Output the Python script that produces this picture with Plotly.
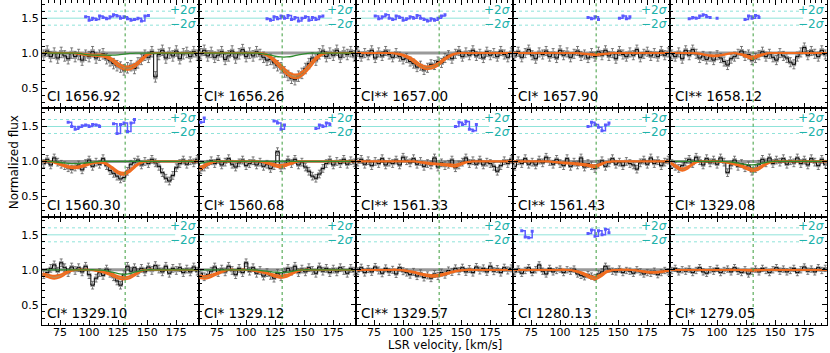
import plotly.graph_objects as go
from plotly.subplots import make_subplots

X_MIN, X_MAX = 59.5, 194.5
Y_MIN, Y_MAX = 0.21, 1.76
V_SYS = 131
SIG_MID, SIG_HI, SIG_LO = 1.5, 1.6, 1.4
SIG_X_END = 174

# velocity grid of the spectra (km/s)
vel = [61, 64, 67, 70, 73, 76, 79, 82, 85, 88, 91, 94, 97, 100, 103,
       106, 109, 112, 115, 118, 121, 124, 127, 130, 133, 136, 139, 142, 145, 148,
       151, 154, 157, 160, 163, 166, 169, 172, 175, 178, 181, 184, 187, 190, 193]
# velocity grid of the fitted profiles
model_vel = [60, 65, 70, 75, 80, 85, 90, 95, 100, 105, 110, 115, 120, 125,
             130, 135, 140, 145, 150, 155, 160, 165, 170, 175, 180, 185, 190, 195]

labels = ["CI 1656.92", "CI* 1656.26", "CI** 1657.00", "CI* 1657.90", "CI** 1658.12",
          "CI 1560.30", "CI* 1560.68", "CI** 1561.33", "CI** 1561.43", "CI* 1329.08",
          "CI* 1329.10", "CI* 1329.12", "CI** 1329.57", "CI 1280.13", "CI* 1279.05"]
flux_err = [0.075, 0.075, 0.065, 0.065, 0.065, 0.055, 0.055, 0.055, 0.055, 0.055,
            0.055, 0.055, 0.05, 0.045, 0.045]

# CI 1656.92
flux_p01 = [0.97, 1.03, 0.95, 1.00, 0.93, 1.01, 0.96, 0.92, 1.00, 0.95, 0.98, 0.90, 0.97, 0.95, 1.02,
            0.93, 0.97, 0.99, 0.92, 0.89, 0.85, 0.82, 0.80, 0.76, 0.79, 0.82, 0.78, 0.86, 0.91, 0.97,
            0.94, 1.02, 0.66, 0.98, 1.04, 0.93, 1.00, 0.96, 1.03, 0.92, 0.99, 1.01, 0.95, 1.02, 0.97]
hi_p01 = [1.0] * 6 + [1.0, 0.99, 0.985, 0.98, 0.98, 0.965, 0.92, 0.86, 0.815, 0.815, 0.85, 0.92, 0.985] + [1.0] * 9
lo_p01 = [1.0] * 6 + [0.99, 0.975, 0.965, 0.96, 0.955, 0.935, 0.88, 0.81, 0.765, 0.765, 0.81, 0.885, 0.965] + [1.0] * 9
green_p01 = [1.0] * 7 + [0.985, 0.975, 0.97, 0.97, 0.97, 0.97, 0.975, 0.985, 0.995] + [1.0] * 12
res_v_p01 = [97, 100, 103, 106, 109, 112, 115, 118, 121, 124, 127, 130, 133, 136, 139, 142, 145, 148, 151]
res_p01 = [1.52, 1.47, 1.50, 1.48, 1.53, 1.51, 1.49, 1.52, 1.55, 1.53, 1.50, 1.52, 1.49, 1.47, 1.48, 1.50, 1.46, 1.53, 1.54]

# CI* 1656.26
flux_p02 = [0.99, 1.04, 0.96, 1.01, 0.94, 0.97, 1.02, 0.91, 0.96, 1.03, 0.93, 0.99, 1.05, 0.95, 1.00,
            0.96, 1.02, 0.98, 0.94, 0.90, 0.91, 0.86, 0.82, 0.79, 0.73, 0.68, 0.64, 0.62, 0.67, 0.71,
            0.78, 0.85, 0.93, 0.90, 0.99, 1.03, 0.95, 1.00, 0.97, 1.04, 0.94, 1.01, 0.98, 1.02, 0.96]
hi_p02 = [1.0] * 11 + [0.995, 0.965, 0.905, 0.83, 0.75, 0.70, 0.70, 0.76, 0.85, 0.94, 0.99] + [1.0] * 6
lo_p02 = [1.0] * 11 + [0.985, 0.94, 0.86, 0.775, 0.695, 0.645, 0.645, 0.705, 0.795, 0.90, 0.975] + [1.0] * 6
green_p02 = [1.0] * 11 + [0.99, 0.975, 0.955, 0.945, 0.945, 0.955, 0.975, 0.99] + [1.0] * 9
res_v_p02 = [118, 121, 124, 127, 130, 133, 136, 139, 142, 145, 148, 151, 154, 157, 160, 163, 166]
res_p02 = [1.49, 1.47, 1.52, 1.49, 1.53, 1.50, 1.54, 1.48, 1.51, 1.46, 1.50, 1.52, 1.47, 1.51, 1.48, 1.52, 1.53]

# CI** 1657.00
flux_p03 = [1.02, 0.95, 1.00, 0.97, 1.04, 0.93, 1.01, 0.96, 1.03, 0.98, 0.94, 1.00, 0.95, 0.91, 0.93,
            0.88, 0.85, 0.80, 0.82, 0.76, 0.79, 0.84, 0.83, 0.88, 0.86, 0.93, 0.97, 0.92, 0.99, 1.03,
            0.95, 1.01, 0.97, 1.04, 0.96, 0.99, 0.93, 1.02, 0.97, 1.00, 0.95, 1.03, 0.98, 0.94, 1.01]
hi_p03 = [1.0] * 7 + [0.995, 0.98, 0.95, 0.90, 0.84, 0.81, 0.82, 0.86, 0.92, 0.97, 0.995] + [1.0] * 10
lo_p03 = [1.0] * 7 + [0.985, 0.96, 0.92, 0.86, 0.80, 0.77, 0.78, 0.82, 0.89, 0.95, 0.99] + [1.0] * 10
res_v_p03 = [76, 79, 82, 85, 88, 91, 94, 97, 100, 103, 106, 109, 112, 115, 118, 121, 124, 127, 130, 133, 136]
res_p03 = [1.53, 1.49, 1.52, 1.55, 1.50, 1.48, 1.53, 1.51, 1.47, 1.49, 1.52, 1.50, 1.54, 1.50, 1.48, 1.46, 1.49, 1.47, 1.50, 1.53, 1.55]

# CI* 1657.90
flux_p04 = [0.96, 1.02, 0.94, 1.00, 1.05, 0.97, 0.92, 1.01, 0.98, 1.03, 0.95, 1.00, 0.93, 1.04, 0.97,
            1.01, 0.94, 0.99, 1.03, 0.96, 0.98, 0.93, 1.00, 0.95, 1.02, 0.97, 1.04, 0.96, 1.00, 0.92,
            1.03, 0.98, 0.95, 1.01, 0.97, 1.05, 0.94, 0.99, 1.02, 0.96, 1.00, 0.95, 1.03, 0.97, 1.01]
hi_p04 = [1.0] * 12 + [0.995, 0.99, 0.985, 0.99, 0.995] + [1.0] * 11
lo_p04 = [1.0] * 12 + [0.99, 0.98, 0.97, 0.98, 0.99] + [1.0] * 11
res_v_p04 = [124, 127, 130, 133, None, 151, 154, 157, 160]
res_p04 = [1.51, 1.49, 1.52, 1.48, None, 1.50, 1.53, 1.49, 1.52]

# CI** 1658.12
flux_p05 = [0.98, 0.95, 1.01, 0.92, 1.04, 0.97, 1.05, 0.99, 0.93, 0.96, 0.91, 0.95, 0.90, 0.97, 0.93,
            0.88, 0.83, 0.92, 0.95, 0.99, 1.03, 0.96, 0.98, 0.90, 0.93, 0.97, 1.02, 0.95, 0.99, 0.94,
            0.90, 1.00, 0.96, 0.93, 0.87, 0.84, 0.95, 1.01, 1.08, 0.97, 1.03, 0.99, 0.95, 1.04, 0.98]
hi_p05 = [1.0] * 5 + [0.995, 0.98, 0.97, 0.97, 0.98, 0.995] + [1.0] + [0.99, 0.97, 0.95, 0.97, 0.99] + [1.0] * 11
lo_p05 = [1.0] * 5 + [0.99, 0.97, 0.955, 0.955, 0.97, 0.99] + [1.0] + [0.98, 0.945, 0.915, 0.945, 0.98] + [1.0] * 11
res_v_p05 = [76, 79, 82, 85, 88, 91, 94, None, 100, None, 124, 127, 130, 133, 136]
res_p05 = [1.49, 1.51, 1.50, 1.53, 1.55, 1.52, 1.51, None, 1.50, None, 1.48, 1.53, 1.50, 1.54, 1.51]

# CI 1560.30
flux_p06 = [0.97, 1.03, 0.95, 1.05, 0.99, 0.96, 0.94, 0.91, 0.89, 0.92, 0.95, 0.88, 0.97, 1.02, 0.93,
            0.99, 0.96, 1.04, 0.94, 0.87, 0.83, 0.79, 0.75, 0.77, 0.86, 0.96, 0.99, 1.02, 0.95, 1.00,
            0.97, 1.03, 0.98, 0.93, 0.84, 0.76, 0.72, 0.80, 0.91, 0.97, 1.02, 0.96, 1.01, 0.98, 1.03]
hi_p06 = [1.0] * 2 + [0.99, 0.97, 0.945, 0.93, 0.93, 0.95, 0.975, 0.99, 0.995, 0.975, 0.92, 0.86, 0.84, 0.88, 0.95, 0.99] + [1.0] * 10
lo_p06 = [1.0] * 2 + [0.98, 0.95, 0.92, 0.905, 0.905, 0.925, 0.955, 0.975, 0.98, 0.955, 0.89, 0.83, 0.81, 0.85, 0.925, 0.98] + [1.0] * 10
green_p06 = [1.0] * 2 + [0.995, 0.985, 0.975, 0.97, 0.97, 0.975, 0.985, 0.995] + [1.0] * 18
res_v_p06 = [82, 85, 88, 91, 94, 97, 100, 103, 106, 109, None, 121, 124, 127, 130, 133, 136, 139]
res_p06 = [1.56, 1.50, 1.46, 1.49, 1.51, 1.52, 1.50, 1.53, 1.52, 1.50, None, 1.54, 1.40, 1.53, 1.55, 1.43, 1.55, 1.60]

# CI* 1560.68
flux_p07 = [0.88, 0.92, 0.96, 1.01, 0.97, 1.03, 0.95, 0.99, 1.04, 0.96, 0.92, 0.98, 1.02, 0.94, 0.97,
            1.01, 0.95, 0.99, 0.93, 0.96, 0.90, 0.94, 1.14, 0.91, 0.95, 1.02, 0.97, 1.03, 0.95, 0.99,
            0.92, 0.86, 0.79, 0.76, 0.82, 0.90, 0.97, 1.02, 0.95, 1.00, 0.97, 1.03, 0.96, 1.01, 0.98]
hi_p07 = [0.92, 0.96, 0.99] + [1.0] * 8 + [0.995, 0.98, 0.96, 0.95, 0.965, 0.985] + [1.0] * 11
lo_p07 = [0.88, 0.93, 0.975] + [1.0] * 8 + [0.985, 0.96, 0.93, 0.915, 0.94, 0.97] + [1.0] * 11
green_p07 = [0.97, 0.99] + [1.0] * 26
res_v_p07 = [61, 64, None, 124, 127, 130, 133, None, 160, 163, 166, 169, 172]
res_p07 = [1.56, 1.62, None, 1.58, 1.55, 1.46, 1.52, None, 1.47, 1.52, 1.50, 1.55, 1.53]

# CI** 1561.33
flux_p08 = [0.99, 1.03, 0.96, 1.01, 0.94, 1.00, 0.97, 1.04, 0.95, 0.99, 0.97, 1.02, 0.95, 1.06, 1.01,
            0.98, 1.04, 0.96, 1.00, 0.93, 0.97, 0.95, 1.05, 0.92, 0.98, 0.94, 0.96, 1.02, 0.91, 0.95,
            0.99, 1.05, 0.97, 1.01, 0.96, 1.02, 0.95, 0.99, 0.97, 0.93, 0.86, 0.94, 1.01, 0.97, 1.03]
hi_p08 = [1.0] * 11 + [0.995, 0.985, 0.975, 0.97, 0.965, 0.96, 0.955, 0.975, 0.995] + [1.0] * 8
lo_p08 = [1.0] * 11 + [0.985, 0.97, 0.96, 0.955, 0.945, 0.935, 0.925, 0.955, 0.985] + [1.0] * 8
res_v_p08 = [145, 148, 151, 154, 157, 160, 163]
res_p08 = [1.50, 1.56, 1.53, 1.57, 1.46, 1.44, 1.53]

# CI** 1561.43
flux_p09 = [0.93, 1.01, 0.97, 1.04, 0.96, 0.99, 0.95, 1.02, 0.98, 1.06, 1.00, 0.96, 1.03, 0.97, 0.94,
            1.04, 0.93, 0.99, 0.95, 1.05, 0.92, 0.97, 0.94, 0.90, 0.96, 1.01, 0.93, 0.98, 1.04, 0.96,
            0.99, 0.94, 1.00, 0.97, 0.95, 0.89, 0.98, 1.02, 0.96, 1.05, 0.97, 1.01, 0.94, 0.99, 1.02]
hi_p09 = [1.0] * 7 + [0.995, 0.99, 0.985, 0.98, 0.975, 0.965, 0.955, 0.945, 0.97, 0.995] + [1.0] * 11
lo_p09 = [1.0] * 7 + [0.99, 0.98, 0.97, 0.965, 0.955, 0.945, 0.93, 0.915, 0.95, 0.985] + [1.0] * 11
res_v_p09 = [124, 127, 130, 133, 136, 139, 142]
res_p09 = [1.50, 1.56, 1.53, 1.49, 1.44, 1.52, 1.55]

# CI* 1329.08
flux_p10 = [0.97, 0.93, 0.90, 0.94, 0.99, 1.03, 0.97, 1.06, 1.01, 0.95, 1.04, 0.98, 1.02, 0.96, 1.05,
            0.99, 0.84, 0.95, 1.02, 0.93, 0.97, 0.91, 0.94, 0.86, 0.90, 0.96, 1.03, 0.98, 1.05, 0.97,
            1.02, 0.99, 1.04, 0.96, 1.01, 0.98, 1.05, 0.97, 1.02, 0.95, 1.04, 0.99, 0.94, 1.03, 0.96]
hi_p10 = [0.985, 0.94, 0.90, 0.93, 0.98, 1.0] + [1.0] * 3 + [0.995, 0.985, 0.97, 0.95, 0.92, 0.895, 0.91, 0.955, 0.99] + [1.0] * 10
lo_p10 = [0.97, 0.91, 0.865, 0.90, 0.965, 1.0] + [1.0] * 3 + [0.99, 0.975, 0.955, 0.93, 0.89, 0.86, 0.875, 0.93, 0.98] + [1.0] * 10
green_p10 = [1.0] * 10 + [0.995, 0.985, 0.97, 0.955, 0.95, 0.96, 0.98, 0.995] + [1.0] * 10

# CI* 1329.10
flux_p11 = [0.93, 0.96, 1.02, 1.07, 0.98, 1.10, 1.03, 0.96, 1.04, 0.99, 1.03, 0.97, 1.05, 0.93, 0.78,
            0.88, 0.96, 0.92, 1.01, 0.95, 0.90, 0.84, 0.78, 0.93, 1.05, 0.98, 1.03, 0.96, 1.02, 0.97,
            1.04, 0.99, 1.06, 1.01, 0.97, 1.05, 0.95, 1.02, 0.99, 1.03, 0.96, 1.01, 0.97, 1.04, 0.98]
hi_p11 = [0.95, 0.93, 0.915, 0.93, 0.97, 0.995] + [1.0] * 3 + [0.995, 0.985, 0.965, 0.94, 0.91, 0.895, 0.91, 0.95, 0.99] + [1.0] * 10
lo_p11 = [0.92, 0.89, 0.87, 0.89, 0.94, 0.985] + [1.0] * 3 + [0.985, 0.97, 0.945, 0.91, 0.875, 0.86, 0.875, 0.925, 0.98] + [1.0] * 10
green_p11 = [1.0] * 10 + [0.995, 0.985, 0.965, 0.945, 0.935, 0.945, 0.97, 0.99] + [1.0] * 10

# CI* 1329.12
flux_p12 = [0.95, 0.90, 0.93, 0.98, 1.04, 0.96, 1.01, 0.97, 1.05, 0.99, 0.93, 1.02, 0.96, 1.10, 0.98,
            1.03, 0.95, 0.99, 0.91, 0.96, 0.92, 0.88, 0.95, 0.90, 0.97, 1.02, 0.98, 1.05, 0.96, 1.01,
            0.97, 1.03, 0.99, 0.95, 1.04, 0.98, 1.02, 0.96, 1.01, 0.97, 1.03, 0.99, 0.95, 1.02, 0.98]
hi_p12 = [0.92, 0.91, 0.93, 0.96, 0.985, 1.0] + [1.0] * 3 + [0.995, 0.985, 0.97, 0.95, 0.93, 0.915, 0.93, 0.96, 0.99] + [1.0] * 10
lo_p12 = [0.88, 0.87, 0.895, 0.935, 0.97, 1.0] + [1.0] * 3 + [0.99, 0.975, 0.955, 0.93, 0.90, 0.885, 0.90, 0.94, 0.98] + [1.0] * 10
green_p12 = [1.0] * 10 + [0.995, 0.985, 0.975, 0.965, 0.96, 0.965, 0.98, 0.995] + [1.0] * 10

# CI** 1329.57
flux_p13 = [0.98, 1.03, 0.96, 1.01, 0.97, 1.04, 0.99, 0.95, 1.02, 0.97, 1.00, 0.94, 1.03, 0.98, 0.96,
            0.93, 0.97, 0.91, 0.95, 0.89, 0.92, 0.88, 0.94, 0.91, 0.96, 0.93, 0.99, 0.97, 1.02, 0.98,
            1.03, 0.97, 1.01, 0.96, 1.04, 0.99, 1.02, 0.97, 1.05, 0.98, 1.01, 0.96, 1.03, 0.99, 1.02]
hi_p13 = [1.0] * 8 + [0.995, 0.985, 0.97, 0.95, 0.935, 0.925, 0.93, 0.945, 0.965, 0.985, 0.995] + [1.0] * 9
lo_p13 = [1.0] * 8 + [0.99, 0.975, 0.955, 0.93, 0.91, 0.90, 0.905, 0.925, 0.95, 0.975, 0.99] + [1.0] * 9

# CI 1280.13
flux_p14 = [0.97, 1.01, 0.95, 0.99, 1.03, 0.96, 1.00, 1.07, 0.98, 0.94, 1.02, 0.97, 0.99, 1.01, 0.96,
            1.00, 0.98, 1.01, 0.94, 0.92, 0.90, 0.93, 0.91, 0.89, 0.94, 0.97, 1.05, 1.01, 0.98, 0.97,
            1.01, 0.96, 0.99, 0.98, 0.95, 1.00, 0.97, 0.94, 0.96, 0.95, 0.98, 0.93, 0.96, 0.99, 0.97]
hi_p14 = [1.0] * 10 + [0.995, 0.98, 0.955, 0.92, 0.90, 0.935, 0.98, 0.995] + [1.0] * 3 + [0.995, 0.985, 0.975, 0.97, 0.975, 0.985, 0.99]
lo_p14 = [1.0] * 10 + [0.99, 0.965, 0.93, 0.885, 0.86, 0.90, 0.96, 0.99] + [1.0] * 3 + [0.99, 0.975, 0.96, 0.955, 0.96, 0.975, 0.985]
res_v_p14 = [67, 70, 73, 76, None, 124, 127, 130, 133, 136, 139, 142]
res_p14 = [1.56, 1.47, 1.46, 1.55, None, 1.52, 1.57, 1.48, 1.56, 1.50, 1.58, 1.53]

# CI* 1279.05
flux_p15 = [0.99, 1.02, 0.97, 1.00, 0.98, 1.01, 0.96, 0.99, 1.03, 0.97, 0.95, 1.00, 0.98, 1.02, 0.96,
            0.99, 1.01, 0.97, 1.03, 0.98, 0.96, 1.00, 0.94, 0.98, 1.01, 0.97, 1.02, 0.99, 0.96, 1.00,
            1.03, 0.98, 1.01, 0.97, 0.99, 1.02, 0.96, 1.00, 1.04, 0.98, 1.01, 0.97, 1.03, 0.99, 1.02]
hi_p15 = [1.0] * 28
lo_p15 = [1.0] * 12 + [0.995, 0.99, 0.985, 0.99, 0.995] + [1.0] * 11

panels = [
    (flux_p01, lo_p01, hi_p01, green_p01, res_v_p01, res_p01),
    (flux_p02, lo_p02, hi_p02, green_p02, res_v_p02, res_p02),
    (flux_p03, lo_p03, hi_p03, None, res_v_p03, res_p03),
    (flux_p04, lo_p04, hi_p04, None, res_v_p04, res_p04),
    (flux_p05, lo_p05, hi_p05, None, res_v_p05, res_p05),
    (flux_p06, lo_p06, hi_p06, green_p06, res_v_p06, res_p06),
    (flux_p07, lo_p07, hi_p07, green_p07, res_v_p07, res_p07),
    (flux_p08, lo_p08, hi_p08, None, res_v_p08, res_p08),
    (flux_p09, lo_p09, hi_p09, None, res_v_p09, res_p09),
    (flux_p10, lo_p10, hi_p10, green_p10, None, None),
    (flux_p11, lo_p11, hi_p11, green_p11, None, None),
    (flux_p12, lo_p12, hi_p12, green_p12, None, None),
    (flux_p13, lo_p13, hi_p13, None, None, None),
    (flux_p14, lo_p14, hi_p14, None, res_v_p14, res_p14),
    (flux_p15, lo_p15, hi_p15, None, None, None),
]

ORANGE = '#f26b1d'
BAND = 'rgba(184,132,72,0.9)'
GREEN = '#2e8b2e'
BLUE = '#5a5aff'
CYAN = '#8fe3da'
TEAL = '#20b2aa'
FONT = 'DejaVu Sans'

fig = make_subplots(rows=3, cols=5, horizontal_spacing=0, vertical_spacing=0)

for i, (flux, lo, hi, green, rv, rs) in enumerate(panels):
    r, c = i // 5 + 1, i % 5 + 1
    n = '' if i == 0 else str(i + 1)
    err = flux_err[i]
    rc = dict(row=r, col=c)

    # sigma reference lines for the residuals
    for lvl, dash in [(SIG_HI, 'dot'), (SIG_MID, 'solid'), (SIG_LO, 'dot')]:
        fig.add_trace(go.Scatter(x=[X_MIN, SIG_X_END], y=[lvl, lvl], mode='lines',
                                 line=dict(color=CYAN, width=1, dash=dash), hoverinfo='skip'), **rc)

    # continuum
    fig.add_trace(go.Scatter(x=[X_MIN, X_MAX], y=[1, 1], mode='lines',
                             line=dict(color='#9a9a9a', width=3), hoverinfo='skip'), **rc)

    # data: error bars, gray boxes, step
    fig.add_trace(go.Scatter(x=vel, y=flux, mode='markers', marker=dict(size=1, color='rgba(0,0,0,0)'),
                             error_y=dict(type='constant', value=err, color='#5a5a5a', thickness=0.8, width=1.5)), **rc)
    fig.add_trace(go.Scatter(x=vel, y=flux, mode='markers', marker=dict(size=1, color='rgba(0,0,0,0)'),
                             error_y=dict(type='constant', value=err * 0.45, color='#969696', thickness=4.5, width=0)), **rc)
    fig.add_trace(go.Scatter(x=vel, y=flux, mode='lines',
                             line=dict(color='black', width=1, shape='hvh')), **rc)

    # fit profile with uncertainty band
    fig.add_trace(go.Scatter(x=model_vel, y=lo, mode='lines',
                             line=dict(color=ORANGE, width=1.8, shape='spline')), **rc)
    fig.add_trace(go.Scatter(x=model_vel, y=hi, mode='lines', fill='tonexty', fillcolor=BAND,
                             line=dict(color=ORANGE, width=1.8, shape='spline')), **rc)
    if green is not None:
        fig.add_trace(go.Scatter(x=model_vel, y=green, mode='lines',
                                 line=dict(color=GREEN, width=1.3, shape='spline')), **rc)

    # residuals
    if rv is not None:
        fig.add_trace(go.Scatter(x=rv, y=rs, mode='lines+markers',
                                 line=dict(color=BLUE, width=1.5, shape='hv'),
                                 marker=dict(color=BLUE, size=3, symbol='square')), **rc)

    fig.add_vline(x=V_SYS, line=dict(color='#3c9c3c', width=1, dash='dot'), **rc)

    fig.add_annotation(text=labels[i], xref=f'x{n} domain', yref=f'y{n} domain', x=0.02, y=0.02,
                       xanchor='left', yanchor='bottom', showarrow=False,
                       font=dict(family=FONT, size=13.5, color='black'))
    for lvl, txt in [(SIG_HI + 0.02, '+2<i>σ</i>'), (SIG_LO + 0.02, '\u22122<i>σ</i>')]:
        fig.add_annotation(text=txt, xref=f'x{n} domain', yref=f'y{n}', x=1, y=lvl, xshift=-1,
                           xanchor='right', yanchor='middle', showarrow=False,
                           font=dict(family=FONT, size=12, color=TEAL))

fig.update_xaxes(range=[X_MIN, X_MAX], dtick=25, tick0=0, showline=True, linecolor='black', linewidth=1,
                 mirror='allticks', ticks='inside', ticklen=5, tickcolor='black',
                 minor=dict(ticks='inside', ticklen=2.5, dtick=5, tick0=0, tickcolor='black'),
                 showgrid=False, zeroline=False, showticklabels=False, ticklabelstandoff=-3,
                 tickfont=dict(family=FONT, size=11, color='black'))
fig.update_yaxes(range=[Y_MIN, Y_MAX], dtick=0.5, tick0=0, tickformat='.1f', showline=True,
                 linecolor='black', linewidth=1, mirror='allticks', ticks='inside', ticklen=5,
                 tickcolor='black', minor=dict(ticks='inside', ticklen=2.5, dtick=0.1, tick0=0, tickcolor='black'),
                 showgrid=False, zeroline=False, showticklabels=False,
                 tickfont=dict(family=FONT, size=11, color='black'))
fig.update_xaxes(showticklabels=True, row=3)
fig.update_yaxes(showticklabels=True, col=1)

fig.add_annotation(text='Normalized flux', xref='paper', yref='paper', x=-0.036, y=0.5,
                   textangle=-90, showarrow=False, xanchor='center', yanchor='middle',
                   font=dict(family=FONT, size=12, color='black'))
fig.add_annotation(text='LSR velocity, [km/s]', xref='paper', yref='paper', x=0.513, y=-0.062,
                   showarrow=False, xanchor='center', yanchor='middle',
                   font=dict(family=FONT, size=11.5, color='black'))

fig.update_layout(width=830, height=353, showlegend=False, plot_bgcolor='white', paper_bgcolor='white',
                  margin=dict(l=42, r=3, t=0, b=28))

# drop the page's default body margin so the figure sits at the window's corner
fig.write_html("out.html", config={'displayModeBar': False},
               post_script="document.body.style.margin='0';")
